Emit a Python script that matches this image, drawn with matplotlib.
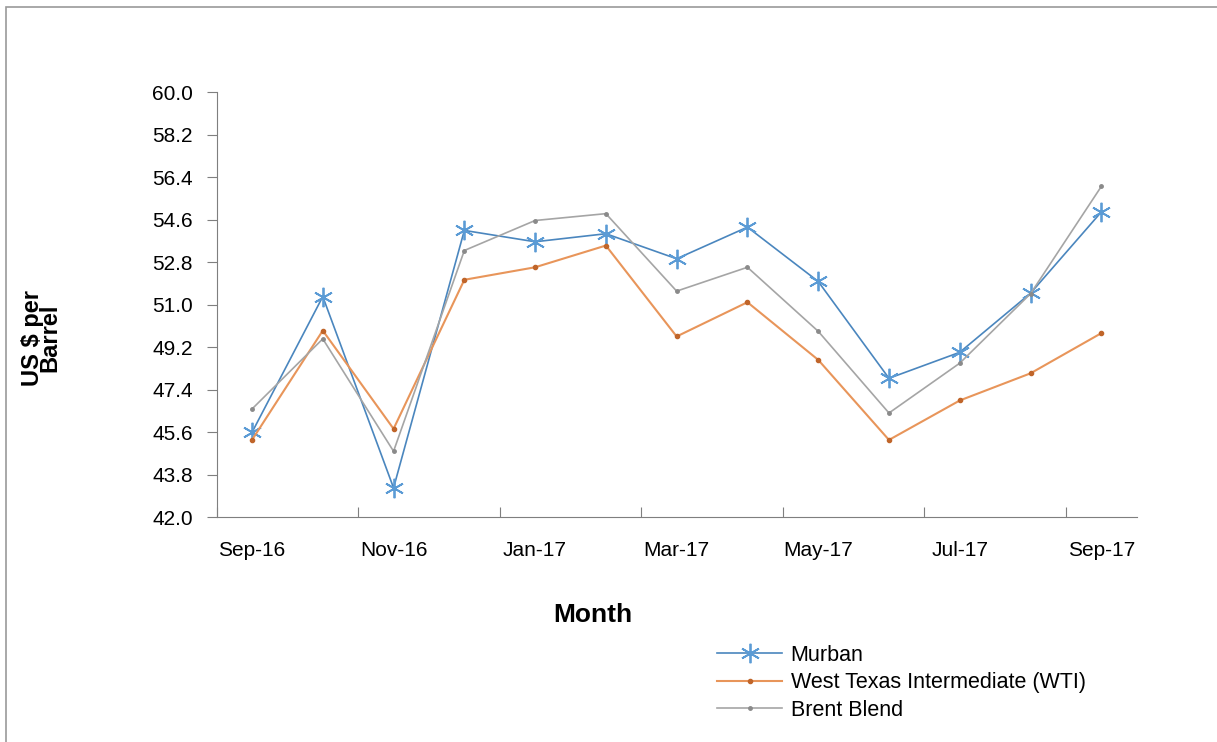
import matplotlib.pyplot as plt
from matplotlib.patches import Rectangle

months = ["Sep-16", "Oct-16", "Nov-16", "Dec-16", "Jan-17", "Feb-17", "Mar-17",
          "Apr-17", "May-17", "Jun-17", "Jul-17", "Aug-17", "Sep-17"]
murban = [45.59, 51.34, 43.24, 54.14, 53.66, 54.00, 52.94, 54.28, 51.98, 47.88, 48.98, 51.48, 54.92]
wti = [45.27, 49.90, 45.74, 52.05, 52.58, 53.50, 49.65, 51.10, 48.66, 45.27, 46.94, 48.09, 49.79]
brent = [46.58, 49.55, 44.79, 53.29, 54.56, 54.85, 51.57, 52.58, 49.87, 46.41, 48.52, 51.46, 56.00]
yticks = [42.0, 43.8, 45.6, 47.4, 49.2, 51.0, 52.8, 54.6, 56.4, 58.2, 60.0]

plt.rcParams["font.family"] = ["Liberation Sans", "DejaVu Sans"]

fig = plt.figure(figsize=(12.17, 7.42), dpi=100)
ax = fig.add_axes([0.178, 0.303, 0.756, 0.573])

x = list(range(len(months)))
ax.plot(x, murban, color="#4A86BE", lw=1.2, marker=(6, 2, 0), ms=14, mec="#5B9BD5", mew=1.3, label="Murban")
ax.plot(x, wti, color="#E8955A", lw=1.5, marker="o", ms=3, mfc="#C0652A", mec="#C0652A", label="West Texas Intermediate (WTI)")
ax.plot(x, brent, color="#A5A5A5", lw=1.2, marker="o", ms=2.5, mfc="#8A8A8A", mec="#8A8A8A", label="Brent Blend")

ax.set_xlim(-0.5, 12.5)
ax.set_ylim(42.0, 60.0)
ax.set_yticks(yticks)
ax.set_yticklabels([f"{v:.1f}" for v in yticks], fontsize=15)
ax.set_xticks([i - 0.5 for i in range(0, 13, 2)])
ax.set_xticklabels([])
ax.set_xticks(x[::2], minor=True)
ax.set_xticklabels(months[::2], minor=True, fontsize=15)
ax.tick_params(axis="x", which="minor", length=0, pad=17)
ax.tick_params(axis="x", which="major", length=7, direction="in", color="#7F7F7F")
ax.tick_params(axis="y", length=7, direction="out", color="#7F7F7F", pad=10)

for s in ["top", "right"]:
    ax.spines[s].set_visible(False)
for s in ["left", "bottom"]:
    ax.spines[s].set_color("#7F7F7F")

ax.set_xlabel("Month", fontsize=19, fontweight="bold", va="center")
ax.xaxis.set_label_coords(0.409, -0.23)
fig.text(0.034, 0.545, "US $ per\nBarrel", rotation=90, fontsize=17, fontweight="bold",
         ha="center", va="center", linespacing=0.72)

ax.legend(loc="upper left", bbox_to_anchor=(0.535, -0.28), frameon=False, fontsize=15.5,
          handlelength=3.0, handletextpad=0.4, labelspacing=0.3, borderaxespad=0)

fig.patches.append(Rectangle((0.005, -0.01), 1.1, 1.0, transform=fig.transFigure,
                             fill=False, edgecolor="#9A9A9A", lw=1.2))

fig.savefig("out.png", dpi=100)
